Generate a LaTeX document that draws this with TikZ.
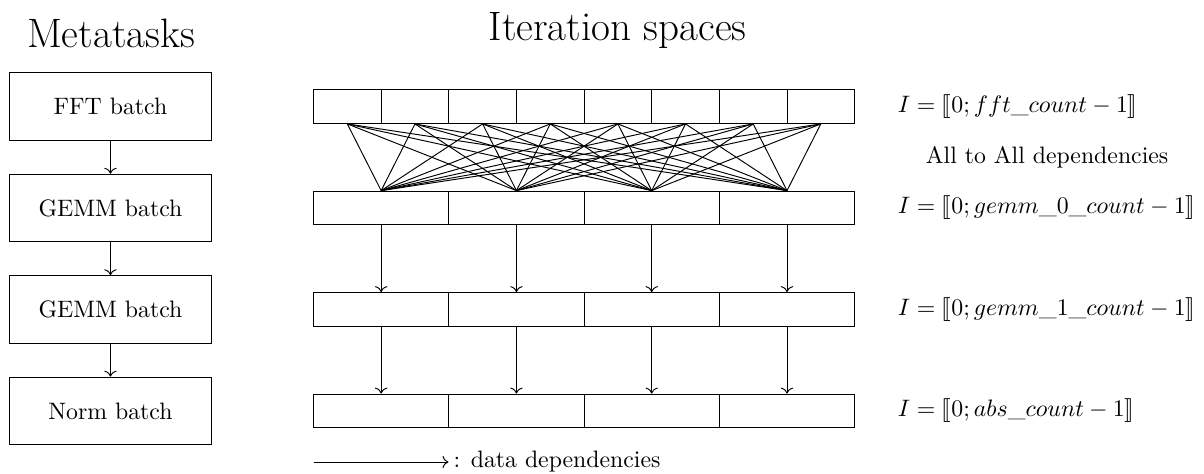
\documentclass[tikz,border=0pt]{standalone}
\usepackage{stmaryrd}
\usepackage{tikz}
\usetikzlibrary{arrows.meta, positioning}

\begin{document}
\begin{tikzpicture}[
  meta/.style={
    rectangle, draw=black, minimum width=3cm, minimum height=1cm,
    inner sep=0pt, align=center},
  cell/.style={
    rectangle, draw=black, minimum width=1cm, minimum height=0.5cm,
    inner sep=0pt},
  widecell/.style={cell, minimum width=2cm},
  heading/.style={font=\LARGE, anchor=base},
  arr/.style={->, draw=black},
  lbl/.style={anchor=west},
]
\useasboundingbox (0,0) rectangle (17.8,-7.0);

\node[heading] (metahead) at (1.64, -0.705) {Metatasks};
\node[heading] (iterhead) at (9.13, -0.60)  {Iteration spaces};

\node[meta] (fftbox)   at (1.633, -1.575) {FFT batch};
\node[meta] (gemmabox) at (1.633, -3.075) {GEMM batch};
\node[meta] (gemmbbox) at (1.633, -4.575) {GEMM batch};
\node[meta] (normbox)  at (1.633, -6.075) {Norm batch};

\draw[arr] (fftbox.south)   -- (gemmabox.north);
\draw[arr] (gemmabox.south) -- (gemmbbox.north);
\draw[arr] (gemmbbox.south) -- (normbox.north);

\foreach \i in {1,...,8}
  \node[cell] (fft-\i) at (4.135+\i, -1.575) {};
\foreach \j in {1,...,4} {
  \node[widecell] (gemma-\j) at (3.635+2*\j, -3.075) {};
  \node[widecell] (gemmb-\j) at (3.635+2*\j, -4.575) {};
  \node[widecell] (abs-\j)   at (3.635+2*\j, -6.075) {};
}

\foreach \i in {1,...,8}
  \foreach \j in {1,...,4}
    \draw (fft-\i.south) -- (gemma-\j.north);

\foreach \j in {1,...,4} {
  \draw[arr] (gemma-\j.south) -- (gemmb-\j.north);
  \draw[arr] (gemmb-\j.south) -- (abs-\j.north);
}

\node[lbl] (fftlbl)   at (13.15, -1.575) {$I = \llbracket 0; fft\_count - 1\rrbracket$};
\node      (alllbl)   at (15.48, -2.325) {All to All dependencies};
\node[lbl] (gemmalbl) at (13.15, -3.075) {$I = \llbracket 0; gemm\_0\_count - 1\rrbracket$};
\node[lbl] (gemmblbl) at (13.15, -4.575) {$I = \llbracket 0; gemm\_1\_count - 1\rrbracket$};
\node[lbl] (abslbl)   at (13.15, -6.075) {$I = \llbracket 0; abs\_count - 1\rrbracket$};

\coordinate (legstart) at (4.635, -6.83);
\node[lbl, inner sep=2pt] (legtxt) at (6.63, -6.83) {: data dependencies};
\draw[arr] (legstart) -- (legtxt.west);

\end{tikzpicture}
\end{document}
